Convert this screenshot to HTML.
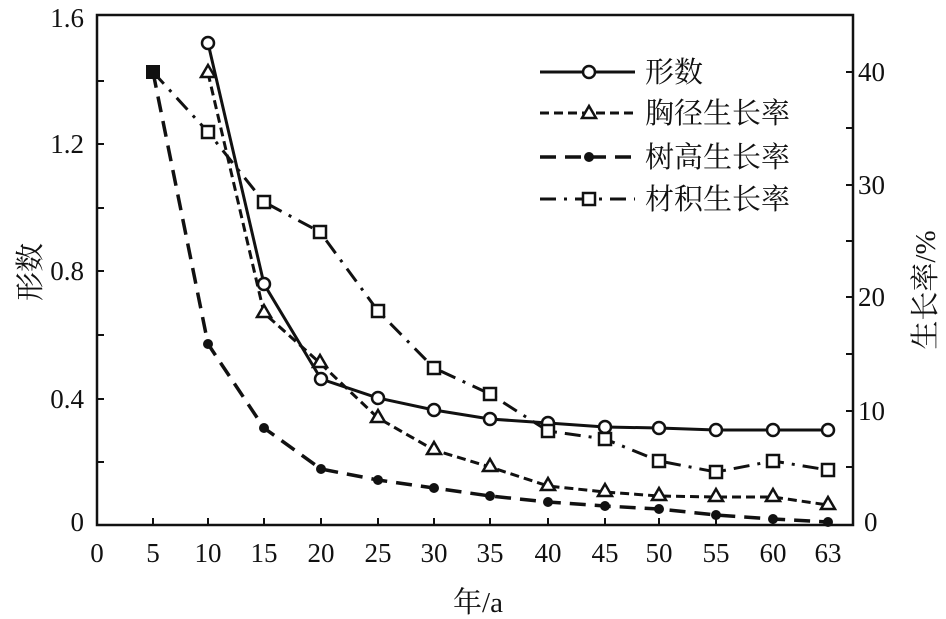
<!DOCTYPE html>
<html><head><meta charset="utf-8"><style>
html,body{margin:0;padding:0;background:#fff;}
svg{display:block;}
text{font-family:"Liberation Serif","Noto Serif CJK SC",serif;fill:#111;}
</style></head><body>
<svg width="946" height="619" viewBox="0 0 946 619" xmlns="http://www.w3.org/2000/svg">
<rect x="97" y="15" width="756" height="510" fill="none" stroke="#111" stroke-width="2.5"/>
<g stroke="#111" stroke-width="2">
<line x1="97" y1="462" x2="104" y2="462"/><line x1="97" y1="399" x2="104" y2="399"/>
<line x1="97" y1="335" x2="104" y2="335"/><line x1="97" y1="271" x2="104" y2="271"/>
<line x1="97" y1="208" x2="104" y2="208"/><line x1="97" y1="144" x2="104" y2="144"/>
<line x1="97" y1="81" x2="104" y2="81"/>
<line x1="853" y1="467" x2="846" y2="467"/><line x1="853" y1="411" x2="846" y2="411"/>
<line x1="853" y1="354" x2="846" y2="354"/><line x1="853" y1="297" x2="846" y2="297"/>
<line x1="853" y1="241" x2="846" y2="241"/><line x1="853" y1="185" x2="846" y2="185"/>
<line x1="853" y1="128" x2="846" y2="128"/><line x1="853" y1="72" x2="846" y2="72"/>
<line x1="153" y1="525" x2="153" y2="518"/><line x1="208" y1="525" x2="208" y2="518"/>
<line x1="264" y1="525" x2="264" y2="518"/><line x1="321" y1="525" x2="321" y2="518"/>
<line x1="378" y1="525" x2="378" y2="518"/><line x1="434" y1="525" x2="434" y2="518"/>
<line x1="490" y1="525" x2="490" y2="518"/><line x1="548" y1="525" x2="548" y2="518"/>
<line x1="605" y1="525" x2="605" y2="518"/><line x1="659" y1="525" x2="659" y2="518"/>
<line x1="716" y1="525" x2="716" y2="518"/><line x1="773" y1="525" x2="773" y2="518"/>
<line x1="828" y1="525" x2="828" y2="518"/>
</g>
<g font-size="27" text-anchor="end">
<text x="84" y="531">0</text><text x="84" y="408">0.4</text><text x="84" y="280">0.8</text>
<text x="84" y="153">1.2</text><text x="84" y="27">1.6</text>
</g>
<g font-size="27" text-anchor="start">
<text x="864" y="531">0</text><text x="858" y="420">10</text><text x="858" y="306">20</text>
<text x="858" y="194">30</text><text x="858" y="81">40</text>
</g>
<g font-size="27" text-anchor="middle">
<text x="97" y="562">0</text><text x="153" y="562">5</text><text x="208" y="562">10</text>
<text x="264" y="562">15</text><text x="321" y="562">20</text><text x="378" y="562">25</text>
<text x="434" y="562">30</text><text x="490" y="562">35</text><text x="548" y="562">40</text>
<text x="605" y="562">45</text><text x="659" y="562">50</text><text x="716" y="562">55</text>
<text x="773" y="562">60</text><text x="828" y="562">63</text>
</g>
<text x="478" y="612" font-size="29" text-anchor="middle">年/a</text>
<text transform="translate(40,272) rotate(-90)" font-size="29" text-anchor="middle">形数</text>
<text transform="translate(935,290) rotate(-90)" font-size="29" text-anchor="middle">生长率/%</text>

<g fill="none" stroke="#111">
<polyline stroke-width="3" points="208,43 264,284 321,379 378,398 434,410 490,419 548,423 605,427 659,428 716,430 773,430 828,430"/>
<polyline stroke-width="3" stroke-dasharray="9,5" points="208,73 264,313 320,363 378,418 434,450 490,467 548,486 605,492 659,496 716,497 773,497 828,505"/>
<polyline stroke-width="3.5" stroke-dasharray="16,9" points="153,72 208,344 264,428 321,469 378,480 434,488 490,496 548,502 605,506 659,509 716,515 773,519 828,522"/>
<polyline stroke-width="3" stroke-dasharray="16,8,3,8" points="153,72 208,132 264,202 320,232 378,311 434,368 490,394 548,431 605,439 659,461 716,472 773,461 828,470"/>
</g>
<g fill="#fff" stroke="#111" stroke-width="2.5">
<g>
<circle cx="208" cy="43" r="6"/><circle cx="264" cy="284" r="6"/><circle cx="321" cy="379" r="6"/>
<circle cx="378" cy="398" r="6"/><circle cx="434" cy="410" r="6"/><circle cx="490" cy="419" r="6"/>
<circle cx="548" cy="423" r="6"/><circle cx="605" cy="427" r="6"/><circle cx="659" cy="428" r="6"/>
<circle cx="716" cy="430" r="6"/><circle cx="773" cy="430" r="6"/><circle cx="828" cy="430" r="6"/>
</g>
<g>
<path d="M208,65 l7,12 h-14z"/><path d="M264,305 l7,12 h-14z"/><path d="M320,355 l7,12 h-14z"/>
<path d="M378,410 l7,12 h-14z"/><path d="M434,442 l7,12 h-14z"/><path d="M490,459 l7,12 h-14z"/>
<path d="M548,478 l7,12 h-14z"/><path d="M605,484 l7,12 h-14z"/><path d="M659,488 l7,12 h-14z"/>
<path d="M716,489 l7,12 h-14z"/><path d="M773,489 l7,12 h-14z"/><path d="M828,497 l7,12 h-14z"/>
</g>
<g>
<rect x="202" y="126" width="12" height="12"/><rect x="258" y="196" width="12" height="12"/>
<rect x="314" y="226" width="12" height="12"/><rect x="372" y="305" width="12" height="12"/>
<rect x="428" y="362" width="12" height="12"/><rect x="484" y="388" width="12" height="12"/>
<rect x="542" y="425" width="12" height="12"/><rect x="599" y="433" width="12" height="12"/>
<rect x="653" y="455" width="12" height="12"/><rect x="710" y="466" width="12" height="12"/>
<rect x="767" y="455" width="12" height="12"/><rect x="822" y="464" width="12" height="12"/>
</g>
</g>
<g fill="#111">
<rect x="146" y="65" width="14" height="14"/>
<circle cx="208" cy="344" r="5"/><circle cx="264" cy="428" r="5"/><circle cx="321" cy="469" r="5"/>
<circle cx="378" cy="480" r="5"/><circle cx="434" cy="488" r="5"/><circle cx="490" cy="496" r="5"/>
<circle cx="548" cy="502" r="5"/><circle cx="605" cy="506" r="5"/><circle cx="659" cy="509" r="5"/>
<circle cx="716" cy="515" r="5"/><circle cx="773" cy="519" r="5"/><circle cx="828" cy="522" r="5"/>
</g>

<g stroke="#111" fill="none">
<line x1="540" y1="72" x2="635" y2="72" stroke-width="3"/>
<line x1="540" y1="113" x2="635" y2="113" stroke-width="3" stroke-dasharray="9,5"/>
<line x1="540" y1="157" x2="635" y2="157" stroke-width="3.5" stroke-dasharray="16,9"/>
<line x1="540" y1="199" x2="635" y2="199" stroke-width="3" stroke-dasharray="16,8,3,8"/>
</g>
<g fill="#fff" stroke="#111" stroke-width="2.5">
<circle cx="589" cy="72" r="6"/>
<path d="M589,106 l7,12 h-14z"/>
<rect x="583" y="193" width="12" height="12"/>
</g>
<circle cx="589" cy="157" r="5" fill="#111"/>
<g font-size="29">
<text x="645" y="82">形数</text>
<text x="645" y="123">胸径生长率</text>
<text x="645" y="167">树高生长率</text>
<text x="645" y="209">材积生长率</text>
</g>
</svg>
</body></html>
